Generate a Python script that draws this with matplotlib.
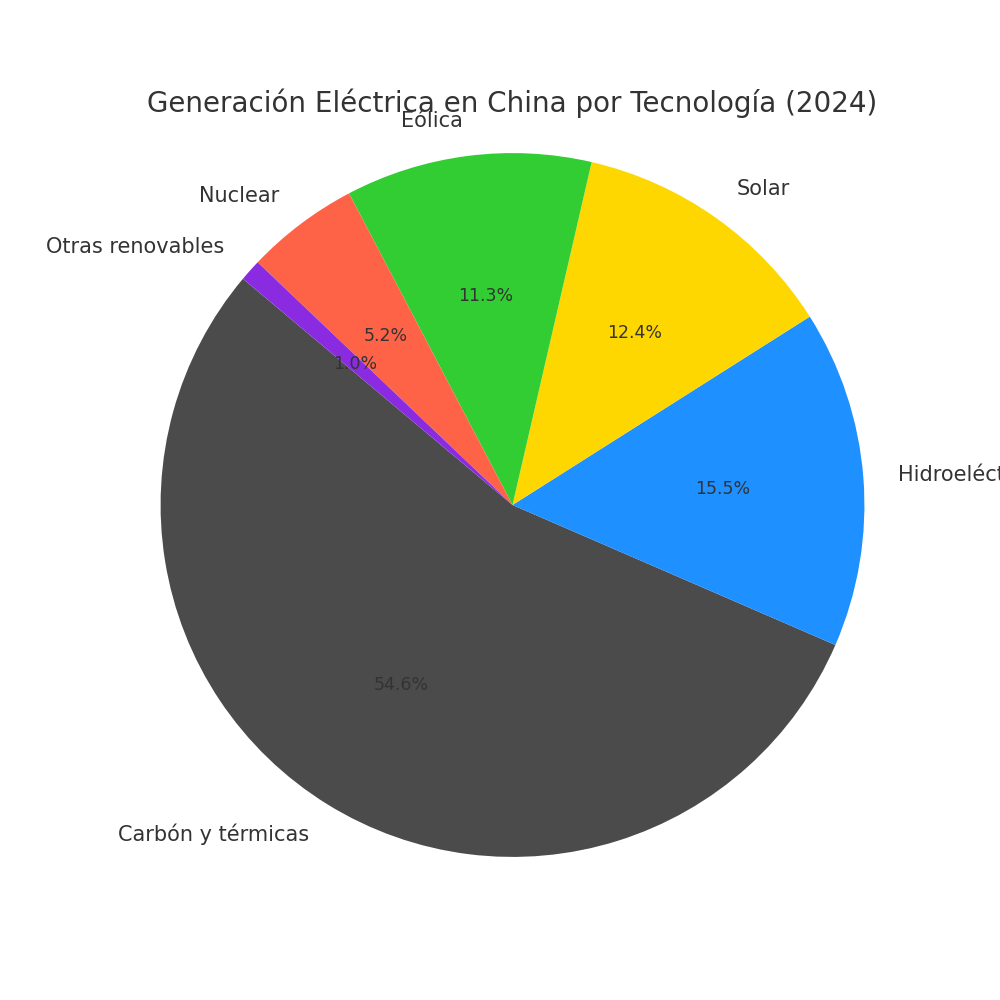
import matplotlib.pyplot as plt

# Generación eléctrica en China por tecnología, 2024 (% del total)
tecnologias = ['Carbón y térmicas', 'Hidroeléctrica', 'Solar', 'Eólica',
               'Nuclear', 'Otras renovables']
porcentajes = [54.6, 15.5, 12.4, 11.3, 5.2, 1.0]
colores = ['#4B4B4B', '#1E90FF', '#FFD700', '#32CD32', '#FF6347', '#8A2BE2']

plt.rcParams['text.color'] = '#333333'

fig, ax = plt.subplots(figsize=(10, 10), dpi=100)
ax.pie(porcentajes, labels=tecnologias, colors=colores, autopct='%1.1f%%',
       startangle=140, textprops={'fontsize': 15})
# porcentajes un poco más pequeños que las etiquetas
for t in ax.texts:
    if t.get_text().endswith('%'):
        t.set_fontsize(12.5)
ax.set_xlim(-1.094, 1.094)
ax.set_ylim(-1.094, 1.094)
ax.set_title('Generación Eléctrica en China por Tecnología (2024)', fontsize=20)

plt.savefig('out.png')
plt.close()
